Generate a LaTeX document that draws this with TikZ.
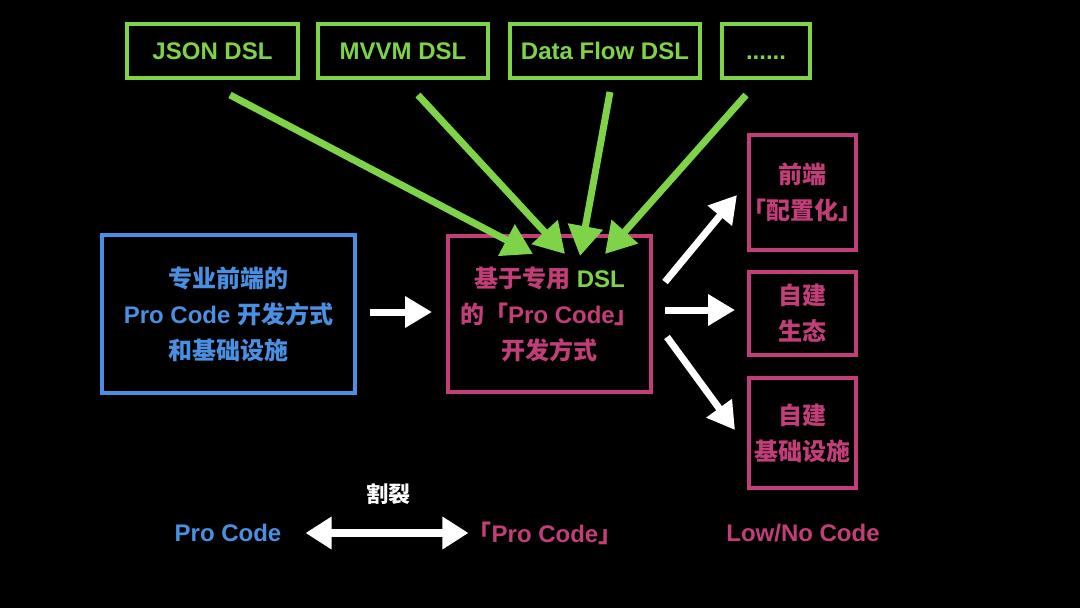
\documentclass[tikz,border=0pt]{standalone}
\usepackage{fontspec}
\setmainfont{Liberation Sans}
\newfontfamily\cjkf{Noto Sans CJK SC}
\newcommand\cn[1]{{\cjkf #1}}
\usetikzlibrary{arrows.meta}
\definecolor{dslgreen}{RGB}{126,211,72}
\definecolor{problue}{RGB}{74,144,226}
\definecolor{lowpink}{RGB}{194,62,121}
\tikzset{
  gbox/.style={draw=dslgreen, line width=4pt, text=dslgreen, minimum height=54pt, inner sep=0pt, text height=17.5pt, text depth=0pt},
  bbox/.style={draw=problue, line width=4pt, text=problue, align=center, inner sep=0pt},
  pbox/.style={draw=lowpink, line width=4pt, text=lowpink, align=center, inner sep=0pt},
  garrow/.style={draw=dslgreen, line width=7pt, -{Triangle[length=30pt,width=34pt]}},
  warrow/.style={draw=white, line width=7pt, -{Triangle[length=27pt,width=30pt]}},
  wdarrow/.style={draw=white, line width=8pt, {Triangle[length=26pt,width=31pt]}-{Triangle[length=26pt,width=31pt]}},
  lbl/.style={inner sep=0pt}
}
\begin{document}
\begin{tikzpicture}[x=1pt,y=-1pt,font=\fontsize{24}{36}\selectfont\bfseries]
\fill[black] (0,0) rectangle (1080,608);
\useasboundingbox (0,0) rectangle (1080,608);

% top DSL boxes
\node[gbox, minimum width=171pt] (json) at (212.5,51) {JSON DSL};
\node[gbox, minimum width=170pt] (mvvm) at (403,51) {MVVM DSL};
\node[gbox, minimum width=190pt] (flow) at (605,51) {Data Flow DSL};
\node[gbox, minimum width=88pt] (more) at (766,51) {......};

% main boxes
\node[bbox, minimum width=253pt, minimum height=158pt] (pro) at (228.5,314)
  {\cn{专业前端的}\\Pro Code \cn{开发方式}\\\cn{和基础设施}};
\node[pbox, minimum width=203pt, minimum height=156pt] (mid) at (549.5,314)
  {\cn{基于专用} \textcolor{dslgreen}{DSL}\\\cn{的「}Pro Code\cn{」}\\\cn{开发方式}};

% right boxes
\node[pbox, minimum width=107pt, minimum height=115pt] (cfg) at (802.5,192.5)
  {\cn{前端}\\\cn{\kern-8pt「配置化」\kern-8pt}};
\node[pbox, minimum width=107pt, minimum height=83pt] (eco) at (802.5,313.5)
  {\cn{自建}\\\cn{生态}};
\node[pbox, minimum width=107pt, minimum height=110pt] (infra) at (802.5,433)
  {\cn{自建}\\\cn{基础设施}};

% green arrows
\draw[garrow] ([shift={(17.5,15)}]json.south) -- ([shift={(-16.5,20)}]mid.north);
\draw[garrow] ([shift={(15,15)}]mvvm.south) -- ([shift={(15.5,20)}]mid.north);
\draw[garrow] ([shift={(5,12)}]flow.south) -- ([shift={(30.5,22)}]mid.north);
\draw[garrow] ([shift={(-20,15)}]more.south) -- ([shift={(55.5,20)}]mid.north);

% white arrows
\draw[warrow] ([shift={(13,-2)}]pro.east) -- ([shift={(-14,-2)}]mid.west);
\draw[warrow] ([shift={(12,-32)}]mid.east) -- ([shift={(-10,2.5)}]cfg.west);
\draw[warrow] ([shift={(12,-4)}]mid.east) -- ([shift={(-12,-3.5)}]eco.west);
\draw[warrow] ([shift={(14,23)}]mid.east) -- ([shift={(-12,-3)}]infra.west);

% bottom labels
\node[lbl, text=problue] (pc) at (228,533) {Pro Code};
\node[lbl, text=lowpink] (pcq) at (545,533) {\cn{「}Pro Code\cn{」}};
\node[lbl, text=lowpink] (lnc) at (803,533) {Low/No Code};
\node[lbl, text=white, font=\fontsize{22}{26}\selectfont\bfseries] (split) at (388,494) {\cn{割裂}};
\draw[wdarrow] ([xshift=24]pc.east) -- ([xshift=1]pcq.west);
\end{tikzpicture}
\end{document}
